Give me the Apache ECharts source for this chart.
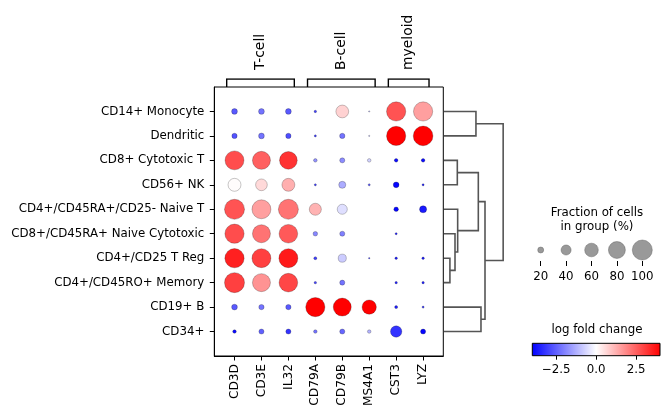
<!DOCTYPE html>
<html><head><meta charset="utf-8">
<script src="https://cdn.jsdelivr.net/npm/echarts@6.0.0/dist/echarts.min.js"></script>
<style>html,body{margin:0;padding:0;background:#fff}#c{width:670px;height:418px}</style>
</head><body><div id="c"></div>
<script>
const genes = ['CD3D','CD3E','IL32','CD79A','CD79B','MS4A1','CST3','LYZ'];
const cellTypes = ['CD14+ Monocyte','Dendritic','CD8+ Cytotoxic T','CD56+ NK','CD4+/CD45RA+/CD25- Naive T','CD8+/CD45RA+ Naive Cytotoxic','CD4+/CD25 T Reg','CD4+/CD45RO+ Memory','CD19+ B','CD34+'];
// fraction of cells expressing (%)
const fracPct = [
  [19,19,19,6,55,2.5,95,95],
  [17,19,17,5,17,2.5,95,98],
  [93,87,85,10,16,10,10,10],
  [56,49,56,5,25,5,19,5],
  [100,93,100,51,40,0,14,25],
  [95,87,91,14,16,0,5,0],
  [95,93,93,8,30,3,6,6],
  [100,87,91,6,16,0,6,6],
  [19,17,17,95,87,64,8,5],
  [10,16,16,10,16,10,47,16]
];
// log fold change
const logFC = [
  [-2.6,-2.2,-2.6,-3.0,0.7,-1.0,2.7,1.5],
  [-2.7,-2.2,-2.8,-3.0,-2.2,-1.0,4,4],
  [2.8,2.5,3.2,-1.7,-1.8,-0.7,-3.8,-3.8],
  [0.05,0.6,1.25,-3.0,-1.3,-2.5,-3.9,-3.5],
  [2.7,1.5,2.2,1.2,-0.5,0,-3.9,-3.6],
  [2.8,2.2,2.6,-1.9,-2.0,0,-3.5,0],
  [3.5,3.0,3.6,-3.0,-0.8,-3.0,-3.5,-3.5],
  [3.0,1.7,2.9,-3.0,-2.2,0,-3.5,-3.5],
  [-2.6,-2.2,-2.6,4,4,4,-3.5,-3.0],
  [-3.8,-2.5,-3.2,-2.2,-2.4,-1.2,-3.2,-3.9]
];
const groupNames = ['T-cell','B-cell','myeloid'];
const groupStart = [0,3,6];
const groupEnd = [2,5,7];
// dendrogram linkage: [childA, childB, height]; leaves 0-9 in display order, clusters from 10
const linkage = [
  [6,7,0.10],
  [5,10,0.186],
  [4,11,0.231],
  [2,3,0.225],
  [13,12,0.58],
  [8,9,0.625],
  [14,15,0.693],
  [0,1,0.54],
  [17,16,1.0]
];
const sizeLegendPct = [20,40,60,80,100];
const colorTicks = [-2.5,0,2.5];
const lfcMin = -4, lfcMax = 4;

const FONT = 'DejaVu Sans';
const DOT_MAX = 20;
function dotSize(p){ return p <= 0 ? 0 : DOT_MAX * Math.pow(p/100, 0.75); }

// main dot data
const dots = [];
cellTypes.forEach((ct, r) => genes.forEach((g, c) => {
  if (fracPct[r][c] > 0) dots.push([c, r, fracPct[r][c], logFC[r][c]]);
}));

// dendrogram polylines
const nodeY = [], nodeH = [];
cellTypes.forEach((_, i) => { nodeY[i] = i; nodeH[i] = 0; });
const dendroLines = [];
linkage.forEach((lk, k) => {
  const [a, b, h] = lk;
  const id = cellTypes.length + k;
  dendroLines.push({coords: [[nodeH[a], nodeY[a]], [h, nodeY[a]], [h, nodeY[b]], [nodeH[b], nodeY[b]]]});
  nodeY[id] = (nodeY[a] + nodeY[b]) / 2;
  nodeH[id] = h;
});

// group brackets
const BL = -0.29, BR = 0.22;
const bracketLines = groupNames.map((n, i) => ({coords: [
  [groupStart[i]+BL, 0], [groupStart[i]+BL, 1], [groupEnd[i]+BR, 1], [groupEnd[i]+BR, 0]
]}));
const groupMid = groupNames.map((n, i) => (groupStart[i]+BL + groupEnd[i]+BR)/2);
function groupLabel(v){
  let best = 0;
  groupMid.forEach((m, i) => { if (Math.abs(m - v) < Math.abs(groupMid[best] - v)) best = i; });
  return groupNames[best];
}

const minus = v => (v < 0 ? '\u2212' : '') + Math.abs(v).toFixed(1);

const chart = echarts.init(document.getElementById('c'), null, {renderer: 'canvas'});
const main = {left: 214.3, top: 87, width: 229, height: 269};
chart.setOption({
  animation: false,
  textStyle: {fontFamily: FONT},
  grid: [
    {left: main.left, top: main.top, width: main.width, height: main.height, show: true, borderColor: '#000', borderWidth: 1, backgroundColor: 'transparent'},
    {left: 444, top: main.top, width: 71, height: main.height},
    {left: main.left, top: 79, width: main.width, height: 8},
    {left: 528, top: 239, width: 127, height: 22},
    {left: 532.3, top: 343.3, width: 127.7, height: 12.4}
  ],
  xAxis: [
    {gridIndex: 0, type: 'value', min: -0.75, max: 7.75, splitLine: {show: false},
     axisLine: {show: true, onZero: false, lineStyle: {color: '#000'}},
     axisTick: {show: true, length: 4.5, customValues: genes.map((g,i)=>i), lineStyle: {color: '#000'}},
     axisLabel: {customValues: genes.map((g,i)=>i), rotate: 90, margin: 8, fontSize: 12.2, color: '#000', fontFamily: FONT,
       formatter: v => genes[Math.round(v)]}},
    {gridIndex: 1, type: 'value', min: 0, max: 1.2, show: false},
    {gridIndex: 2, type: 'value', min: -0.75, max: 7.75, position: 'top', splitLine: {show: false},
     axisLine: {show: false, onZero: false}, axisTick: {show: false},
     axisLabel: {show: true, customValues: groupMid, rotate: -90, margin: 9, fontSize: 13.9, color: '#000', fontFamily: FONT,
       formatter: groupLabel}},
    {gridIndex: 3, type: 'category', data: sizeLegendPct.map(String), boundaryGap: true,
     axisLine: {show: false, onZero: false}, splitLine: {show: false},
     axisTick: {show: true, alignWithLabel: true, interval: 0, length: 5, lineStyle: {color: '#000'}},
     axisLabel: {interval: 0, hideOverlap: false, margin: 10, fontSize: 11.8, color: '#000', fontFamily: FONT}},
    {gridIndex: 4, type: 'value', min: lfcMin, max: lfcMax, splitLine: {show: false},
     axisLine: {show: false, onZero: false},
     axisTick: {show: true, length: 4, customValues: colorTicks, lineStyle: {color: '#000'}},
     axisLabel: {customValues: colorTicks, margin: 8, fontSize: 11.8, color: '#000', fontFamily: FONT, formatter: minus}}
  ],
  yAxis: [
    {gridIndex: 0, type: 'value', min: -1, max: 10, inverse: true, splitLine: {show: false},
     axisLine: {show: true, onZero: false, lineStyle: {color: '#000'}},
     axisTick: {show: true, length: 4.5, customValues: cellTypes.map((c,i)=>i), lineStyle: {color: '#000'}},
     axisLabel: {customValues: cellTypes.map((c,i)=>i), margin: 10, fontSize: 11.8, color: '#000', fontFamily: FONT,
       formatter: v => cellTypes[Math.round(v)]}},
    {gridIndex: 1, type: 'value', min: -1, max: 10, inverse: true, show: false},
    {gridIndex: 2, type: 'value', min: 0, max: 1, show: false},
    {gridIndex: 3, type: 'value', min: 0, max: 1, show: false},
    {gridIndex: 4, type: 'value', min: 0, max: 1, show: false}
  ],
  visualMap: [{
    type: 'continuous', show: false, seriesIndex: 0, dimension: 3, min: lfcMin, max: lfcMax,
    inRange: {color: ['#0000ff', '#ffffff', '#ff0000']}
  }],
  series: [
    {type: 'scatter', xAxisIndex: 0, yAxisIndex: 0, data: dots,
     symbolSize: v => dotSize(v[2]),
     itemStyle: {borderColor: 'rgba(0,0,0,0.45)', borderWidth: 0.5, opacity: 1}},
    {type: 'lines', coordinateSystem: 'cartesian2d', xAxisIndex: 1, yAxisIndex: 1, polyline: true,
     data: dendroLines, lineStyle: {color: '#555555', width: 1.6, opacity: 1}, silent: true},
    {type: 'lines', coordinateSystem: 'cartesian2d', xAxisIndex: 2, yAxisIndex: 2, polyline: true,
     data: bracketLines, lineStyle: {color: '#000', width: 1.4, opacity: 1}, silent: true},
    {type: 'scatter', xAxisIndex: 3, yAxisIndex: 3, data: sizeLegendPct.map((p,i)=>[i, 0.5, p]),
     symbolSize: v => dotSize(v[2]), itemStyle: {color: '#808080', borderColor: '#555', borderWidth: 0.5}, silent: true},
    {type: 'line', xAxisIndex: 4, yAxisIndex: 4, data: [[lfcMin, 0.5], [lfcMax, 0.5]], symbol: 'none',
     lineStyle: {opacity: 0}, silent: true,
     markArea: {silent: true, data: [[{coord: [lfcMin, 0]}, {coord: [lfcMax, 1]}]],
       itemStyle: {color: new echarts.graphic.LinearGradient(0, 0, 1, 0, [
         {offset: 0, color: '#0000ff'}, {offset: 0.5, color: '#ffffff'}, {offset: 1, color: '#ff0000'}]),
         borderColor: '#000', borderWidth: 1, opacity: 1}}}
  ],
  graphic: [
    {type: 'text', x: 597, y: 205.7, style: {text: 'Fraction of cells\nin group (%)', textAlign: 'center', textVerticalAlign: 'top',
      fontSize: 11.8, lineHeight: 14, fill: '#000', fontFamily: FONT}},
    {type: 'text', x: 597, y: 323.7, style: {text: 'log fold change', textAlign: 'center', textVerticalAlign: 'top',
      fontSize: 11.8, fill: '#000', fontFamily: FONT}}
  ]
});
</script>
</body></html>
